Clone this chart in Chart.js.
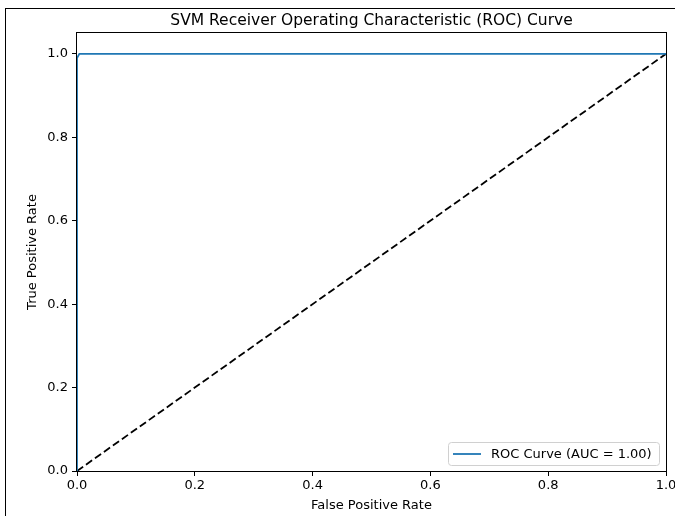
<!DOCTYPE html>
<html>
<head>
<meta charset="utf-8">
<script src="https://cdn.jsdelivr.net/npm/chart.js@4/dist/chart.umd.min.js"></script>
<style>
  html, body { margin: 0; padding: 0; background: #fff; }
  #wrap { width: 675px; height: 516px; }
</style>
</head>
<body>
<div id="wrap"><canvas id="roc" width="675" height="516"></canvas></div>
<script>
// ROC data
const fpr = [0, 0, 0.004, 1];
const tpr = [0, 0.99, 1, 1];
const chanceX = [0, 1];
const chanceY = [0, 1];
const xTicks = [0, 0.2, 0.4, 0.6, 0.8, 1.0];
const yTicks = [0, 0.2, 0.4, 0.6, 0.8, 1.0];
const rocLabel = "ROC Curve (AUC = 1.00)";
const titleText = "SVM Receiver Operating Characteristic (ROC) Curve";

const FONT = "'DejaVu Sans', sans-serif";
const FS = 13;
const pts = (xs, ys) => xs.map((x, i) => ({ x: x, y: ys[i] }));

// frame, axes box, title and legend drawn on top
const decor = {
  id: "decor",
  afterDraw(chart) {
    const ctx = chart.ctx;
    const a = chart.chartArea;
    ctx.save();
    // outer figure frame
    ctx.strokeStyle = "#000";
    ctx.lineWidth = 1;
    ctx.strokeRect(5.5, 8.5, 700, 600);
    // axes spines
    ctx.strokeRect(Math.round(a.left) - 0.5, Math.round(a.top) - 0.5,
      Math.round(a.right - a.left) + 1, Math.round(a.bottom - a.top) + 1);
    // title
    ctx.fillStyle = "#000";
    ctx.font = "15.5px " + FONT;
    ctx.textAlign = "center";
    ctx.textBaseline = "alphabetic";
    ctx.fillText(titleText, (a.left + a.right) / 2, 25);
    // legend
    const lx = 448, ly = 442, lw = 211, lh = 23;
    ctx.fillStyle = "rgba(255,255,255,0.8)";
    ctx.strokeStyle = "#d0d0d0";
    ctx.beginPath();
    ctx.roundRect(lx + 0.5, ly + 0.5, lw, lh, 3);
    ctx.fill();
    ctx.stroke();
    const ds = chart.data.datasets[0];
    ctx.strokeStyle = ds.borderColor;
    ctx.lineWidth = ds.borderWidth;
    ctx.beginPath();
    ctx.moveTo(453, ly + lh / 2 + 0.5);
    ctx.lineTo(481, ly + lh / 2 + 0.5);
    ctx.stroke();
    ctx.fillStyle = "#000";
    ctx.font = FS + "px " + FONT;
    ctx.textAlign = "left";
    ctx.textBaseline = "middle";
    ctx.fillText(ds.label, 491, ly + lh / 2 + 1);
    ctx.restore();
  }
};

new Chart(document.getElementById("roc"), {
  type: "scatter",
  data: {
    datasets: [
      {
        label: rocLabel,
        data: pts(fpr, tpr),
        showLine: true,
        borderColor: "#1f77b4",
        backgroundColor: "#1f77b4",
        borderWidth: 1.8,
        pointRadius: 0,
        tension: 0
      },
      {
        label: "chance",
        data: pts(chanceX, chanceY),
        showLine: true,
        borderColor: "#000",
        backgroundColor: "#000",
        borderWidth: 1.8,
        borderDash: [7.5, 3.5],
        pointRadius: 0,
        tension: 0
      }
    ]
  },
  options: {
    responsive: false,
    animation: false,
    layout: { padding: { left: 0, top: 33, right: 9, bottom: 0 } },
    plugins: {
      legend: { display: false },
      tooltip: { enabled: false },
      title: { display: false }
    },
    scales: {
      x: {
        type: "linear",
        min: 0,
        max: 1,
        afterBuildTicks: s => { s.ticks = xTicks.map(v => ({ value: v })); },
        afterFit: s => { s.height = 45; s.paddingLeft = 0; s.paddingRight = 0; },
        grid: { display: true, drawOnChartArea: false, drawTicks: true, tickLength: 5, color: "#000" },
        border: { display: false },
        ticks: {
          color: "#000",
          padding: 2,
          maxRotation: 0,
          font: { family: FONT, size: FS },
          callback: v => v.toFixed(1)
        },
        title: {
          display: true,
          text: "False Positive Rate",
          color: "#000",
          font: { family: FONT, size: FS },
          padding: { top: 0, bottom: 3 }
        }
      },
      y: {
        type: "linear",
        min: 0,
        max: 1.05,
        afterBuildTicks: s => { s.ticks = yTicks.map(v => ({ value: v })); },
        afterFit: s => { s.width = 77; s.paddingTop = 0; s.paddingBottom = 0; },
        grid: { display: true, drawOnChartArea: false, drawTicks: true, tickLength: 5, color: "#000" },
        border: { display: false },
        ticks: {
          color: "#000",
          padding: 4,
          font: { family: FONT, size: FS },
          callback: v => v.toFixed(1)
        },
        title: {
          display: true,
          text: "True Positive Rate",
          color: "#000",
          font: { family: FONT, size: FS },
          padding: { top: 25, bottom: 0 }
        }
      }
    }
  },
  plugins: [decor]
});
</script>
</body>
</html>
